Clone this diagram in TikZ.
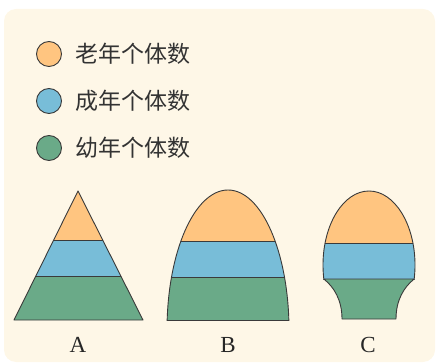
\documentclass[tikz,border=0pt]{standalone}
\usepackage{fontspec}
\setmainfont{Liberation Serif}
\newfontfamily\cjk{Noto Sans CJK SC}
\usepackage{xcolor}
\usetikzlibrary{positioning}
\definecolor{oldc}{HTML}{FFC580}
\definecolor{adultc}{HTML}{78BDD8}
\definecolor{youngc}{HTML}{6AAA88}
\definecolor{paper}{HTML}{FEF7E7}
\definecolor{edge}{HTML}{3A3A3A}

\begin{document}
\begin{tikzpicture}[
  x=1pt, y=-1pt,
  outline/.style={draw=edge, line width=0.9pt, line join=round},
  dot/.style={circle, outline, minimum size=25pt, inner sep=0pt},
  legtext/.style={font=\cjk\fontsize{23}{27}\selectfont, text=black!80, inner sep=0pt},
  tag/.style={font=\fontsize{23}{27}\selectfont, text=black!85, inner sep=0pt},
]
\useasboundingbox (0,0) rectangle (436,363);
% Background
\fill[paper, rounded corners=12pt] (4,9) rectangle (435,362);

% Legend
\foreach \nm/\yy/\col/\txt in {old/54/oldc/老年个体数, adult/101/adultc/成年个体数, young/148/youngc/幼年个体数} {
  \node[dot, fill=\col] (\nm) at (49,\yy) {};
  \node[legtext, right=13pt of \nm] (\nm txt) {\txt};
}

% Pyramid A
\begin{scope}
  \clip (78,191) -- (143,320) -- (14,320) -- cycle;
  \fill[oldc] (0,180) rectangle (160,240);
  \fill[adultc] (0,240) rectangle (160,276);
  \fill[youngc] (0,276) rectangle (160,330);
  \draw[outline] (0,240) -- (160,240) (0,276) -- (160,276);
\end{scope}
\draw[outline] (78,191) -- (143,320) -- (14,320) -- cycle;

% Pyramid B
\begin{scope}
  \clip (228,330) ellipse [x radius=61pt, y radius=140pt];
  \fill[oldc] (160,185) rectangle (300,241);
  \fill[adultc] (160,241) rectangle (300,277);
  \fill[youngc] (160,277) rectangle (300,320);
  \draw[outline] (160,241) -- (300,241) (160,277) -- (300,277) (160,320) -- (300,320);
\end{scope}
\begin{scope}
  \clip (150,180) rectangle (300,320);
  \draw[outline] (228,330) ellipse [x radius=61pt, y radius=140pt];
\end{scope}

% Pyramid C
\begin{scope}
  \clip (369,265) ellipse [x radius=46pt, y radius=74pt];
  \fill[oldc] (310,185) rectangle (430,243);
  \fill[adultc] (310,243) rectangle (430,279);
  \draw[outline] (310,243) -- (430,243) (310,279) -- (430,279);
\end{scope}
\begin{scope}
  \clip (310,180) rectangle (430,279);
  \draw[outline] (369,265) ellipse [x radius=46pt, y radius=74pt];
\end{scope}
\filldraw[outline, fill=youngc] (323.8,279) .. controls (334,287) and (342,300) .. (342,319)
  -- (396,319) .. controls (396,300) and (404,287) .. (414.2,279) -- cycle;

% Labels
\node[tag] (labA) at (78,345) {A};
\node[tag] (labB) at (228,345) {B};
\node[tag] (labC) at (368,345) {C};
\end{tikzpicture}
\end{document}
